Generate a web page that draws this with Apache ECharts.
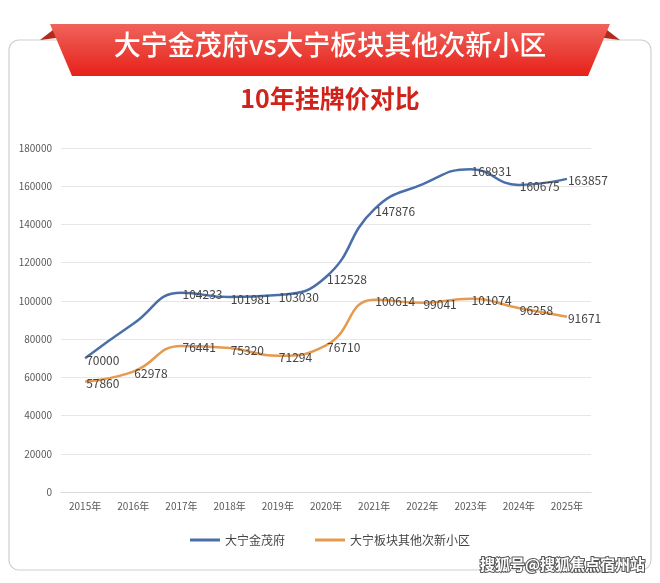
<!DOCTYPE html>
<html>
<meta charset="UTF-8">
<title>price-compare</title>
<style type="text/css">
    html, body { margin: 0px; height: 100%; width: 100%; background: #fff; }
    #chart { width: 660px; height: 583px; }
</style>
<script src="https://cdn.jsdelivr.net/npm/echarts@6/dist/echarts.min.js"></script>
<body>
    <div id="chart"></div>
    <script>
        const years = ['2015年', '2016年', '2017年', '2018年', '2019年', '2020年', '2021年', '2022年', '2023年', '2024年', '2025年'];
        const jinmao = [70000, 88000, 104233, 101981, 103030, 112528, 147876, 161000, 168931, 160675, 163857];
        const others = [57860, 62978, 76441, 75320, 71294, 76710, 100614, 99041, 101074, 96258, 91671];
        const noLabel = [1, 7]; // points the source shows without a label

        const chart = echarts.init(document.querySelector('#chart'));
        const font = '"Noto Sans CJK SC", sans-serif';

        function withLabels(arr, hide) {
            return arr.map((v, i) => hide.includes(i) ? { value: v, label: { show: false } } : v);
        }
        const lbl = { show: true, position: 'right', offset: [-4, 2], color: '#444', fontSize: 12, fontFamily: font };

        chart.setOption({
            animation: false,
            grid: { left: 61, right: 69, top: 148, bottom: 91 },
            xAxis: {
                type: 'category', data: years,
                axisLine: { lineStyle: { color: '#d9d9d9' } },
                axisTick: { show: false },
                axisLabel: { color: '#595959', fontSize: 10, fontFamily: font, margin: 9 }
            },
            yAxis: {
                type: 'value', min: 0, max: 180000, interval: 20000,
                axisLine: { show: false }, axisTick: { show: false },
                splitLine: { lineStyle: { color: '#e6e6e6' } },
                axisLabel: { color: '#595959', fontSize: 10, fontFamily: font, margin: 9, formatter: v => String(v) }
            },
            legend: {
                bottom: 32, itemWidth: 30, itemHeight: 3, itemGap: 30,
                icon: 'rect',
                textStyle: { color: '#444', fontSize: 12, fontFamily: font }
            },
            series: [
                { name: '大宁金茂府', type: 'line', smooth: true, symbol: 'circle', symbolSize: 0.1,
                  lineStyle: { width: 2.5, color: '#4a6fa8' }, itemStyle: { color: '#4a6fa8' },
                  label: lbl, data: withLabels(jinmao, noLabel) },
                { name: '大宁板块其他次新小区', type: 'line', smooth: true, symbol: 'circle', symbolSize: 0.1,
                  lineStyle: { width: 2.5, color: '#e59a4f' }, itemStyle: { color: '#e59a4f' },
                  label: lbl, data: others }
            ],
            graphic: [
                { type: 'rect', shape: { x: 9, y: 40, width: 642, height: 530, r: 10 },
                  style: { fill: 'none', stroke: '#d0d0d0', lineWidth: 1.2 }, z: -1 },
                { type: 'polygon', shape: { points: [[40, 40], [58, 26], [80, 35]] }, style: { fill: '#b02a1e' } },
                { type: 'polygon', shape: { points: [[580, 35], [602, 26], [620, 40]] }, style: { fill: '#b02a1e' } },
                { type: 'polygon', shape: { points: [[50, 24], [610, 24], [588, 76], [72, 76]] },
                  style: { fill: new echarts.graphic.LinearGradient(0, 0, 0, 1, [
                      { offset: 0, color: '#f0635a' }, { offset: 1, color: '#e5211a' }]) } },
                { type: 'text', left: 'center', top: 31,
                  style: { text: '大宁金茂府vs大宁板块其他次新小区', fill: '#fff', font: '500 27px ' + font } },
                { type: 'text', left: 'center', top: 86,
                  style: { text: '10年挂牌价对比', fill: '#d0231b', font: 'bold 25px ' + font } },
                { type: 'text', right: 14, bottom: 10,
                  style: { text: '搜狐号@搜狐焦点宿州站', fill: '#fff', font: 'bold 15px ' + font,
                           stroke: '#555', lineWidth: 2 } }
            ]
        });
    </script>
</body>
</html>
